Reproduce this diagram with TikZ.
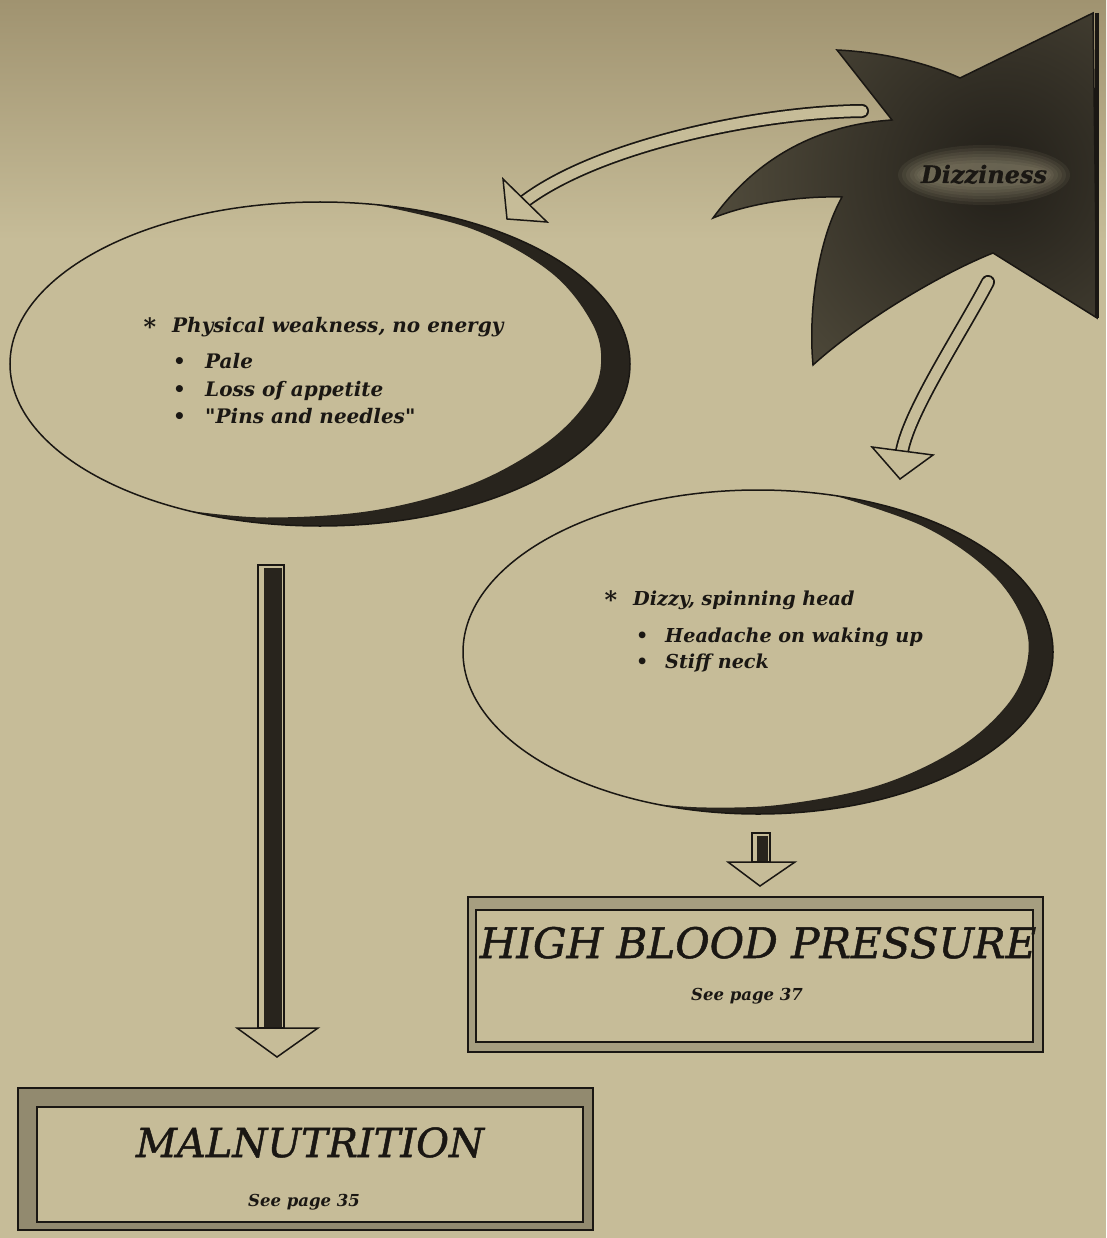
\documentclass[tikz,border=0pt]{standalone}
\usepackage{fontspec}
\newfontfamily\cent{DejaVu Serif}
\newfontfamily\centfb[FakeBold=1.2]{DejaVu Serif}
\newfontfamily\centdz[FakeBold=0.6]{DejaVu Serif}
\definecolor{paperL}{RGB}{212,203,168}
\definecolor{paperD}{RGB}{160,147,112}
\definecolor{paperM}{RGB}{198,188,152}
\definecolor{ink}{RGB}{26,23,19}
\definecolor{starDark}{RGB}{34,31,25}
\definecolor{starLight}{RGB}{92,86,68}
\definecolor{shadowc}{RGB}{40,36,29}
\begin{document}
\begin{tikzpicture}[x=1pt,y=-1pt,
  body/.style={font=\cent\bfseries\itshape\fontsize{20}{23}\selectfont, inner sep=0pt, anchor=base west, text=ink},
  bodyr/.style={body, font=\cent\bfseries\itshape\fontsize{19.2}{22}\selectfont},
  astx/.style={font=\cent\bfseries\fontsize{24}{26}\selectfont, inner sep=0pt, anchor=center, text=ink},
  bigtitle/.style={font=\centfb\itshape\fontsize{42}{46}\selectfont, inner sep=0pt, anchor=base, text=ink},
  seepage/.style={font=\cent\bfseries\itshape\fontsize{16.5}{19}\selectfont, inner sep=0pt, anchor=base, text=ink},
  dz/.style={font=\centdz\bfseries\itshape\fontsize{24}{28}\selectfont, inner sep=0pt, anchor=base},
  outline/.style={draw=ink, line width=1.5pt},
  hollowout/.style={draw=ink, line width=14pt, line cap=round},
  hollowin/.style={draw=paperM, line width=10.5pt, line cap=round},
  headstyle/.style={fill=paperM, draw=ink, line width=1.5pt, line join=miter},
  darkshaft/.style={fill=shadowc},
  band/.style={fill=ink, even odd rule}
]
% background
\fill[paperM] (0,0) rectangle (1106,1238);
\shade[top color=paperD, bottom color=paperM] (0,0) rectangle (1106,240);
\useasboundingbox (0,0) rectangle (1106,1238);

% ---------- star (Dizziness) ----------
\def\starpath{(837,50) .. controls (880,52) and (925,62) .. (960,78) -- (1093,13) -- (1097,318) -- (993,253) .. controls (945,272) and (865,318) .. (813,365) .. controls (808,310) and (818,240) .. (842,197) .. controls (800,196) and (750,203) .. (713,218) .. controls (755,160) and (815,125) .. (892,120) -- cycle}
\begin{scope}
  \clip \starpath;
  \shade[inner color=starDark, outer color=starLight] (1000,175) circle (360pt);
  \foreach \w/\h in {86/30, 82/27, 78/24, 74/21, 70/18, 67/15, 64/12}
    \fill[paperL, fill opacity=0.07] (984,175) ellipse [x radius=\w pt, y radius=\h pt];
\end{scope}
\draw[outline, line join=miter] \starpath;
\draw[ink, line width=4pt] (1097,13) -- (1097,318);
\node[dz, text=ink] (dizz) at (984,183) {Dizziness};

% ---------- ellipse 1 ----------
\coordinate (e1) at (320,364);
\begin{scope}
  \clip (e1) ellipse [x radius=310pt, y radius=162pt];
  \fill[shadowc] (374,150) -- plot[smooth, tension=0.6] coordinates {(373.8,204.5) (473.3,229.4) (550.1,271.8) (591.6,322.3) (601,364) (586.7,402.3) (543.2,445.2) (469.2,485.2) (372.6,510.6) (266.8,517.5) (189,510.8)} -- (150,560) -- (700,560) -- (700,150) -- cycle;
\end{scope}
\draw[outline] (e1) ellipse [x radius=310pt, y radius=162pt];
\node[astx] (ast1) at (150,327) {*};
\node[body] (t11) at (172,332) {Physical weakness, no energy};
\node[body] (b12) at (173,368) {•};
\node[body] (t12) at (205,368) {Pale};
\node[body] (b13) at (173,396) {•};
\node[body] (t13) at (205,396) {Loss of appetite};
\node[body] (b14) at (173,423) {•};
\node[body] (t14) at (205,423) {"Pins and needles"};

% ---------- ellipse 2 ----------
\coordinate (e2) at (758,652);
\begin{scope}
  \clip (e2) ellipse [x radius=295pt, y radius=162pt];
  \fill[shadowc] (834.3,440) -- plot[smooth, tension=0.6] coordinates {(834.3,495.5) (924.3,526.8) (989.8,571.7) (1023.1,619.7) (1027.2,662.2) (1007.1,705.0) (957.0,749.1) (879.2,785.2) (783.3,804.4) (707.2,807.5) (657.1,804.2)} -- (610,860) -- (1100,860) -- (1100,440) -- cycle;
\end{scope}
\draw[outline] (e2) ellipse [x radius=295pt, y radius=162pt];
\node[astx] (ast2) at (611,600) {*};
\node[bodyr] (t21) at (633,605) {Dizzy, spinning head};
\node[bodyr] (b22) at (636,642) {•};
\node[bodyr] (t22) at (665,642) {Headache on waking up};
\node[bodyr] (b23) at (636,668) {•};
\node[bodyr] (t23) at (665,668) {Stiff neck};

% ---------- curved hollow arrow: star -> ellipse 1 ----------
\coordinate (aS) at (862,111);
\coordinate (aE) at (525,201);
\coordinate (aT) at (507,219);
\coordinate (aL) at (503,179);
\coordinate (aR) at (547,222);
\draw[hollowout] (aS) .. controls (760,112) and (600,145) .. (aE);
\draw[hollowin] (aS) .. controls (760,112) and (600,145) .. (aE);
\draw[headstyle] (aL) -- (aT) -- (aR) -- cycle;

% ---------- curved hollow arrow: star -> ellipse 2 ----------
\coordinate (bS) at (988,282);
\coordinate (bE) at (902,451);
\coordinate (bT) at (900,479);
\coordinate (bL) at (872,447);
\coordinate (bR) at (933,455);
\draw[hollowout] (bS) .. controls (960,335) and (910,410) .. (bE);
\draw[hollowin] (bS) .. controls (960,335) and (910,410) .. (bE);
\draw[headstyle] (bL) -- (bT) -- (bR) -- cycle;

% ---------- straight arrow: ellipse 1 -> malnutrition ----------
\coordinate (cS) at (258,565);
\coordinate (cE) at (284,1028);
\fill[paperM] (cS) rectangle (cE);
\fill[darkshaft] (264,568) rectangle (282,1028);
\draw[ink, line width=1.4pt] (cS) rectangle (cE);
\draw[headstyle] (237,1028) -- (277,1057) -- (318,1028) -- cycle;

% ---------- short arrow: ellipse 2 -> high blood pressure ----------
\coordinate (dS) at (752,833);
\coordinate (dE) at (770,862);
\fill[paperM] (dS) rectangle (dE);
\fill[darkshaft] (757,836) rectangle (768,862);
\draw[ink, line width=1.3pt] (dS) rectangle (dE);
\draw[headstyle] (728,862) -- (760,886) -- (795,862) -- cycle;

% ---------- box: high blood pressure ----------
\fill[band, fill opacity=0.18] (468,897) rectangle (1043,1052) (476,910) rectangle (1033,1042);
\draw[ink, line width=2.6pt] (468,897) rectangle (1043,1052);
\draw[ink, line width=1.8pt] (476,910) rectangle (1033,1042);
\node[bigtitle] (hbp) at (758,958) {HIGH BLOOD PRESSURE};
\node[seepage] (hbps) at (747,1000) {See page 37};

% ---------- box: malnutrition ----------
\fill[band, fill opacity=0.3] (18,1088) rectangle (593,1230) (37,1107) rectangle (583,1222);
\draw[ink, line width=2.2pt] (18,1088) rectangle (593,1230);
\draw[ink, line width=2.6pt] (37,1107) rectangle (583,1222);
\node[bigtitle, font=\centfb\itshape\fontsize{40}{44}\selectfont] (mal) at (310,1157) {MALNUTRITION};
\node[seepage] (mals) at (304,1206) {See page 35};
\end{tikzpicture}
\end{document}
